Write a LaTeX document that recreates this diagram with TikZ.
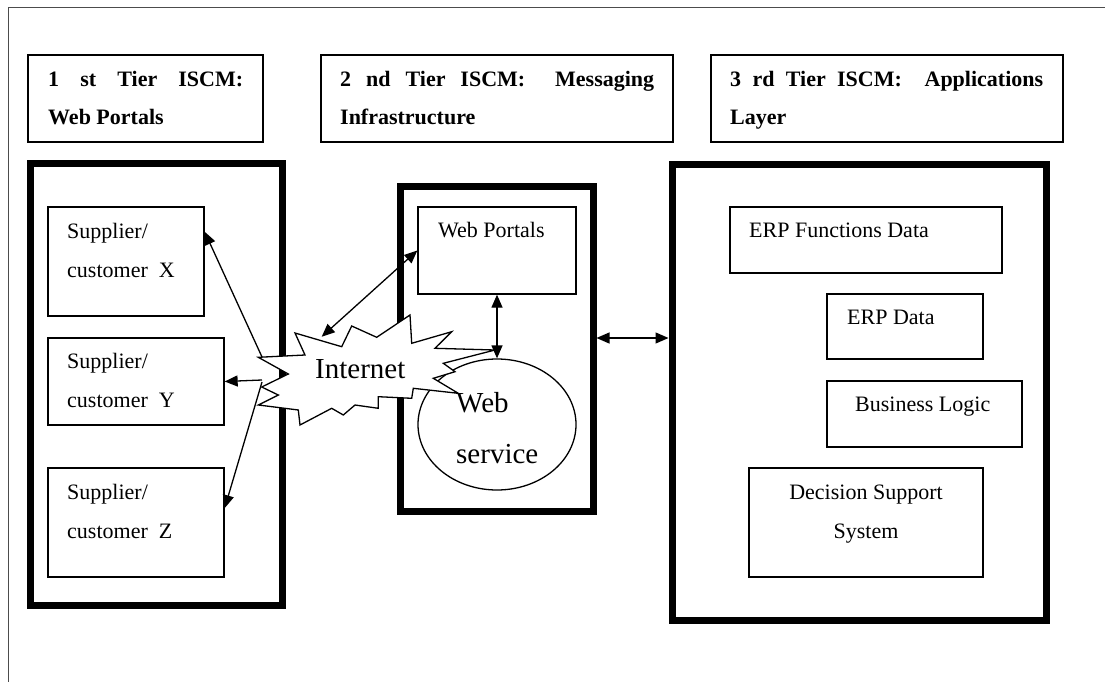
\documentclass[tikz,border=0pt]{standalone}
\usepackage{fontspec}
\setmainfont{Liberation Serif}
\usetikzlibrary{arrows.meta,calc,shapes.geometric}

% two left-aligned lines whose baseline is the first line's baseline
\newcommand\twolines[2]{\begin{tabular}[t]{@{}l@{}}#1\\#2\end{tabular}}

\begin{document}
\begin{tikzpicture}[x=1pt,y=-1pt,
  thinbox/.style={draw, line width=1.3pt, inner sep=0pt, rectangle},
  tierbox/.style={draw, line width=7pt, inner sep=0pt, rectangle, miter limit=10},
  head/.style={font=\bfseries\fontsize{22}{38}\selectfont, inner sep=0pt, anchor=base west},
  lbl/.style={font=\fontsize{22}{39}\selectfont, inner sep=0pt, anchor=base west},
  big/.style={font=\fontsize{29}{51}\selectfont, inner sep=0pt, anchor=base west},
  link/.style={line width=1.3pt, -{Triangle[length=13pt,width=11pt]}},
  dlink/.style={line width=1.3pt, {Triangle[length=13pt,width=11pt]}-{Triangle[length=13pt,width=11pt]}},
]
\useasboundingbox (0,0) rectangle (1105,682);

% page frame
\draw[line width=1pt, black!70] (8,682) -- (8,7.5) -- (1105,7.5);

% tier headings
\node[thinbox, minimum width=235pt, minimum height=87pt] (H1) at (145.5,98.5) {};
\node[thinbox, minimum width=352pt, minimum height=87pt] (H2) at (497,98.5) {};
\node[thinbox, minimum width=352pt, minimum height=87pt] (H3) at (887,98.5) {};
\node[head] (h1t) at (48,87) {\twolines{\hbox to 195pt{1\hfil st\hfil Tier\hfil ISCM:}}{Web Portals}};
\node[head] (h2t) at (340,87) {\twolines{\hbox to 314pt{2\hfil nd\hfil Tier\hfil ISCM:\hfil\hfil Messaging}}{Infrastructure}};
\node[head] (h3t) at (730,87) {\twolines{\hbox to 313pt{3\hfil rd\hfil Tier\hfil ISCM:\hfil\hfil Applications}}{Layer}};

% tier containers
\node[tierbox, minimum width=252pt, minimum height=442pt] (L) at (156,384) {};
\node[tierbox, minimum width=193pt, minimum height=325pt] (M) at (496.5,348.5) {};
\node[tierbox, minimum width=374pt, minimum height=456pt] (R) at (859,392) {};

% first tier: partners
\node[thinbox, minimum width=156pt, minimum height=109pt] (X) at (126,261.5) {};
\node[thinbox, minimum width=176pt, minimum height=87pt] (Y) at (136,381.5) {};
\node[thinbox, minimum width=176pt, minimum height=109pt] (Z) at (136,522.5) {};

% second tier
\node[thinbox, minimum width=158pt, minimum height=87pt] (WP) at (497,250.5) {};
\node[draw, ellipse, line width=1.3pt, inner sep=0pt, minimum width=158pt, minimum height=131pt] (WS) at (497,424.5) {};

% third tier
\node[thinbox, minimum width=272pt, minimum height=66pt] (EF) at (866,240) {};
\node[thinbox, minimum width=156pt, minimum height=65pt] (ED) at (905,326.5) {};
\node[thinbox, minimum width=195pt, minimum height=66pt] (BL) at (924.5,414) {};
\node[thinbox, minimum width=234pt, minimum height=109pt] (DS) at (866,522.5) {};

% internet burst
\draw[line width=1.3pt, fill=white, line join=miter]
  (295,333) -- (341.7,346.7) -- (351.7,326) -- (376.7,337.3) -- (410,315)
  -- (411.7,343.3) -- (451.7,331.7) -- (435,348.3) -- (495,350)
  -- (443.3,363.3) -- (455,371.7) -- (433.3,378.3) -- (458.3,393.3)
  -- (413.3,388.3) -- (411.7,398.3) -- (378.3,396.7) -- (378.3,408.3)
  -- (355,405) -- (343.3,415) -- (331.7,408.3) -- (300,425) -- (298.3,410)
  -- (258.3,405) -- (278.3,395) -- (261.7,387) -- (288.3,374)
  -- (258.3,357.3) -- (305,355) -- cycle;

% labels
\node[lbl] (xt) at (67,238) {\twolines{Supplier/}{customer\ \ X}};
\node[lbl] (yt) at (67,368) {\twolines{Supplier/}{customer\ \ Y}};
\node[lbl] (zt) at (67,499) {\twolines{Supplier/}{customer\ \ Z}};
\node[lbl] (wpt) at (438,237) {Web Portals};
\node[big] (int) at (315,378) {Internet};
\node[big] (wst) at (456,412) {\twolines{Web}{service}};
\node[lbl] (eft) at (749,237) {ERP Functions Data};
\node[lbl] (edt) at (847,324) {ERP Data};
\node[lbl] (blt) at (855,411) {Business Logic};
\node[lbl, anchor=base] (dst) at (866,499) {\begin{tabular}[t]{@{}c@{}}Decision Support\\System\end{tabular}};

% connectors
\coordinate (ix) at (262,357);
\coordinate (iy) at (262,380);
\coordinate (iz) at (262,382);
\coordinate (iw) at (321.7,336.7);
\coordinate (lvl) at (0,338);
\draw[link] (ix) -- ($(X.north east)!0.23!(X.south east)$);
\draw[link] (iy) -- (Y.east);
\draw[link] (iz) -- ($(Z.north east)!0.37!(Z.south east)$);
\draw[dlink] (iw) -- (WP.west);
\draw[dlink] (WP.south) -- (WS.north);
\draw[dlink] (M.east |- lvl) -- (R.west |- lvl);
\end{tikzpicture}
\end{document}
